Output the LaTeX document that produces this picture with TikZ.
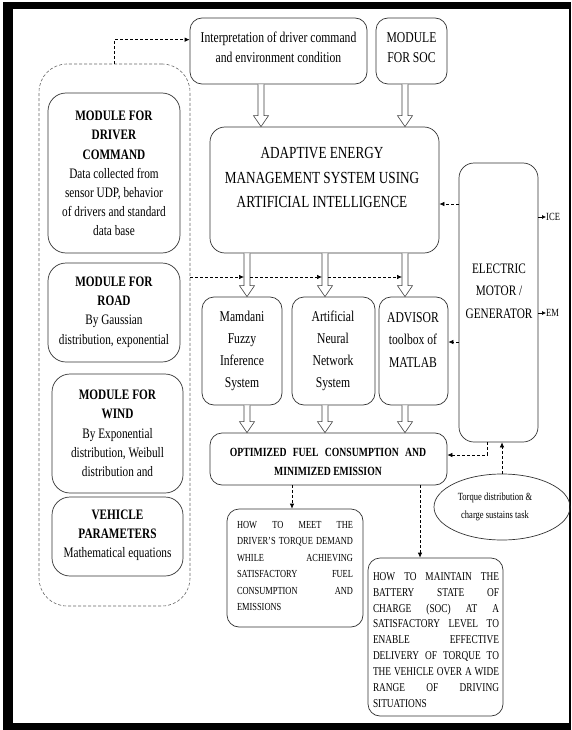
\documentclass[tikz,border=0pt]{standalone}
\usepackage{fontspec}
\setmainfont{Liberation Serif}[FakeStretch=0.78]
\usetikzlibrary{fit,calc,shapes.geometric,arrows.meta}
\newcommand\fsz[2]{\fontsize{#1}{#2}\selectfont}
\newcommand\hollow[3]{%
  \draw[harrow] let \p1=(#1), \p2=(#2.south), \p3=(#3.north) in
    (\x1-3bp,\y2) -- (\x1-3bp,\y3+11bp) -- (\x1-7.5bp,\y3+11bp) -- (\x1,\y3)
    -- (\x1+7.5bp,\y3+11bp) -- (\x1+3bp,\y3+11bp) -- (\x1+3bp,\y2);}
\begin{document}
\begin{tikzpicture}[x=1bp,y=-1bp,
  box/.style={draw=black!80, line width=0.7bp, rounded corners=#1, inner sep=0pt},
  box/.default=12bp,
  txt/.style={inner sep=0pt, align=center, text=black},
  dsh/.style={draw=black, line width=0.7bp, dash pattern=on 3bp off 2bp, -{Latex[length=5bp,width=4.5bp]}},
  sarr/.style={draw=black, line width=0.6bp, -{Latex[length=4bp,width=4bp]}},
  harrow/.style={draw=black!75, line width=0.6bp, fill=white},
  ]
\useasboundingbox (0,0) rectangle (572,730);
\fill[white] (0,0) rectangle (572,730);
% frame
\fill[black] (3,2) rectangle (571,9);
\fill[black] (3,2) rectangle (13,730);
\fill[black] (3,723) rectangle (571,730);
\fill[black] (569,2) rectangle (571,730);

% top boxes
\node[box, fit={(190,18) (367,84)}] (interp) {};
\node[txt, font=\fsz{15}{20}] (interpT) at (278.5,47.5) {Interpretation of driver command\\and environment condition};
\node[box, fit={(376,18) (447,84)}] (soc) {};
\node[txt, font=\fsz{15}{20}] (socT) at (411.5,47.5) {MODULE\\FOR SOC};

% AEMS
\node[box=15bp, fit={(210,127) (439,253)}] (aems) {};
\node[txt, font=\fsz{17}{25}] (aemsT) at (322,177.5) {ADAPTIVE ENERGY\\MANAGEMENT SYSTEM USING\\ARTIFICIAL INTELLIGENCE};

% EMG
\node[box=15bp, fit={(459,163) (538,442)}] (emg) {};
\node[txt, font=\fsz{14.5}{22.5}] (emgT) at (499,291) {ELECTRIC\\MOTOR /\\GENERATOR};
\node[txt, font=\fsz{11}{12}, anchor=west] (ice) at (546,217) {ICE};
\node[txt, font=\fsz{11}{12}, anchor=west] (em) at (546,313) {EM};
\draw[sarr] (emg.east |- ice) -- (ice.west);
\draw[sarr] (emg.east |- em) -- (em.west);

% three methods
\node[box, fit={(202,297) (282,405)}] (fuzzy) {};
\node[txt, font=\fsz{15}{22.3}] (fuzzyT) at (242,351) {Mamdani\\Fuzzy\\Inference\\System};
\node[box, fit={(292,297) (375,405)}] (ann) {};
\node[txt, font=\fsz{15}{22.3}] (annT) at (333,351) {Artificial\\Neural\\Network\\System};
\node[box, fit={(379,297) (448,405)}] (advisor) {};
\node[txt, font=\fsz{15}{22.3}] (advisorT) at (413,340) {ADVISOR\\toolbox of\\MATLAB};

% optimized
\node[box, fit={(210,433) (447,485)}] (opt) {};
\node[txt, font=\bfseries\fsz{12.5}{19}] (optT) at (328,461.5) {\spaceskip=0.5em OPTIMIZED FUEL CONSUMPTION AND\\MINIMIZED EMISSION};

% ellipse
\node[draw=black!80, line width=0.7bp, ellipse, minimum width=136bp, minimum height=66bp, inner sep=0pt] (ell) at (502,507) {};
\node[txt, font=\fsz{11}{18}] (ellT) at (495,507) {Torque distribution \&\\charge sustains task};

% how boxes
\node[box, fit={(227,509) (363,627)}] (how1) {};
\node[txt, align=justify, text width=116bp, font=\fsz{10.8}{16.5}] (how1T) at (295,566)
  {\tolerance=10000 \hbadness=10000 HOW TO MEET THE\linebreak DRIVER'S TORQUE DEMAND\linebreak WHILE ACHIEVING\linebreak SATISFACTORY FUEL\linebreak CONSUMPTION AND\linebreak EMISSIONS};
\node[box, fit={(368,558) (503,716)}] (how2) {};
\node[txt, align=justify, text width=126bp, font=\fsz{12}{16}] (how2T) at (436,640)
  {\tolerance=10000 \hbadness=10000 HOW TO MAINTAIN THE\linebreak BATTERY STATE OF\linebreak CHARGE (SOC) AT A\linebreak SATISFACTORY LEVEL TO\linebreak ENABLE EFFECTIVE\linebreak DELIVERY OF TORQUE TO\linebreak THE VEHICLE OVER A WIDE\linebreak RANGE OF DRIVING\linebreak SITUATIONS};

% left modules
\node[draw=black!60, line width=0.6bp, dash pattern=on 3bp off 2bp, rounded corners=28bp, inner sep=0pt, fit={(39,64) (190,606)}] (cont) {};
\node[box=18bp, fit={(48,93) (180,253)}] (driver) {};
\node[txt, font=\fsz{14.5}{19.2}] (driverT) at (114,173.5) {\textbf{MODULE FOR}\\\textbf{DRIVER}\\\textbf{COMMAND}\\Data collected from\\sensor UDP, behavior\\of drivers and standard\\data base};
\node[box=18bp, fit={(48,263) (180,362)}] (road) {};
\node[txt, font=\fsz{14.5}{19.3}] (roadT) at (114,312) {\textbf{MODULE FOR}\\\textbf{ROAD}\\By Gaussian\\distribution, exponential};
\node[box=18bp, fit={(52,374) (183,493)}] (wind) {};
\node[txt, font=\fsz{14.5}{19.3}] (windT) at (117.5,433.5) {\textbf{MODULE FOR}\\\textbf{WIND}\\By Exponential\\distribution, Weibull\\distribution and};
\node[box=18bp, fit={(52,497) (183,576)}] (vehicle) {};
\node[txt, font=\fsz{14.5}{19.3}] (vehicleT) at (117.5,535) {\textbf{VEHICLE}\\\textbf{PARAMETERS}\\Mathematical equations};

% hollow arrows
\coordinate (ax1) at (261,0);
\coordinate (ax2) at (405,0);
\coordinate (bx1) at (247,0);
\coordinate (bx2) at (325,0);
\coordinate (bx3) at (405,0);
\hollow{ax1}{interp}{aems}
\hollow{ax2}{soc}{aems}
\hollow{bx1}{aems}{fuzzy}
\hollow{bx2}{aems}{ann}
\hollow{bx3}{aems}{advisor}
\hollow{bx1}{fuzzy}{opt}
\hollow{bx2}{ann}{opt}
\hollow{bx3}{advisor}{opt}

% dashed connectors
\draw[dsh] (cont.north) |- ($(interp.north west)!0.33!(interp.south west)$);
\coordinate (t1) at (244,277);
\coordinate (s2) at (250,277);
\coordinate (t2) at (322,277);
\coordinate (s3) at (328,277);
\coordinate (t3) at (402,277);
\draw[dsh] (cont.east |- t1) -- (t1);
\draw[dsh] (s2) -- (t2);
\draw[dsh] (s3) -- (t3);
\coordinate (y204) at (0,204);
\coordinate (y342) at (0,342);
\draw[dsh] (emg.west |- y204) -- (aems.east |- y204);
\draw[dsh] (emg.west |- y342) -- (advisor.east |- y342);
\coordinate (c487) at (487,455);
\draw[dsh] (emg.south -| c487) |- (opt.east |- c487);
\draw[dsh] (ell.north) -- (emg.south -| ell.north);
\coordinate (x292) at (292,0);
\coordinate (x420) at (420,0);
\draw[dsh] (opt.south -| x292) -- (how1.north -| x292);
\draw[dsh] (opt.south -| x420) -- (how2.north -| x420);
\end{tikzpicture}
\end{document}
